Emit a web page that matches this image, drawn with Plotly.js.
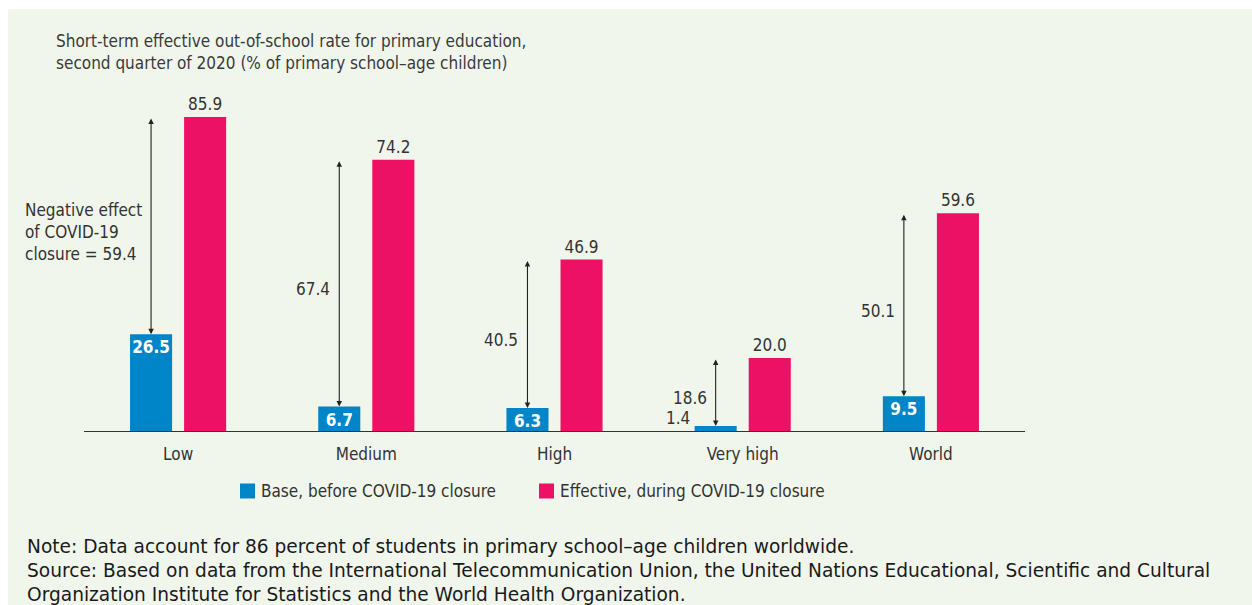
<!DOCTYPE html>
<html>
<head>
<meta charset="utf-8">
<script src="https://cdn.plot.ly/plotly-3.0.1.min.js"></script>
<style>
  html, body { margin: 0; padding: 0; background: #ffffff; }
  #bg { position: absolute; left: 8px; top: 9px; width: 1244px; height: 596px; background: #F1F6ED; }
  #chart { position: absolute; left: 0; top: 0; width: 1252px; height: 605px; }
</style>
</head>
<body>
<div id="bg"></div>
<div id="chart"></div>
<script>
// ---- Data ----
const categories = ['Low', 'Medium', 'High', 'Very high', 'World'];
const baseValues = [26.5, 6.7, 6.3, 1.4, 9.5];
const effectiveValues = [85.9, 74.2, 46.9, 20.0, 59.6];
const gapLabels = ['Negative effect<br>of COVID-19<br>closure = 59.4', '67.4', '40.5', '18.6', '50.1'];
const seriesNames = ['Base, before COVID-19 closure', 'Effective, during COVID-19 closure'];
const titleText = 'Short-term effective out-of-school rate for primary education,<br>second quarter of 2020 (% of primary school\u2013age children)';
const noteText = 'Note: Data account for 86 percent of students in primary school\u2013age children worldwide.<br>' +
  'Source: Based on data from the International Telecommunication Union, the United Nations Educational, Scientific and Cultural<br>' +
  'Organization Institute for Statistics and the World Health Organization.';

// ---- Styles ----
const NARROW = '"DejaVu Sans Condensed", "Liberation Sans Narrow", "Arial Narrow", sans-serif';
const BLUE = '#0085C9';
const PINK = '#EC1164';
const TXT = '#333333';
const seriesColors = [BLUE, PINK];
const blueOffset = -27 / 188; // centre of the blue bar relative to the category centre
const PW = 941, PH = 329, PL = 84, PB = 431; // plot area in pixels (for paper conversions)
const px2x = p => (p - PL) / PW;
const px2y = p => (PB - p) / PH;

const smallBase = baseValues.map(v => v < 3);

const traces = [
  {
    type: 'bar', name: seriesNames[0], x: categories, y: baseValues,
    marker: { color: BLUE },
    text: baseValues.map(v => v.toFixed(1)),
    textposition: smallBase.map(s => s ? 'none' : 'inside'),
    insidetextanchor: 'end',
    textangle: 0,
    constraintext: 'none',
    insidetextfont: { family: NARROW, size: 17, color: '#ffffff', weight: 'bold' },
    hoverinfo: 'x+y', showlegend: false
  },
  {
    type: 'bar', name: seriesNames[1], x: categories, y: effectiveValues,
    marker: { color: PINK },
    text: effectiveValues.map(v => v.toFixed(1)),
    textposition: 'outside',
    textangle: 0,
    constraintext: 'none',
    cliponaxis: false,
    outsidetextfont: { family: NARROW, size: 17, color: TXT },
    hoverinfo: 'x+y', showlegend: false
  }
];

const annotations = [];
const shapes = [];
categories.forEach((c, i) => {
  const xPos = i + blueOffset;
  annotations.push({
    x: xPos, y: baseValues[i], xref: 'x', yref: 'y',
    ax: xPos, ay: effectiveValues[i], axref: 'x', ayref: 'y',
    text: '', showarrow: true, arrowside: 'end+start', arrowhead: 2,
    arrowsize: 1, arrowwidth: 1.1, arrowcolor: '#222222', standoff: 0, startstandoff: 0
  });
  annotations.push({
    x: xPos, y: (baseValues[i] + effectiveValues[i]) / 2, xref: 'x', yref: 'y',
    text: gapLabels[i], showarrow: false, xanchor: 'right', yanchor: 'middle',
    xshift: -7, yshift: -6, align: 'left',
    font: { family: NARROW, size: 17, color: TXT }
  });
  if (smallBase[i]) {
    annotations.push({
      x: xPos, y: 0, xref: 'x', yref: 'y',
      text: baseValues[i].toFixed(1), showarrow: false, xanchor: 'right', yanchor: 'bottom',
      xshift: -24, yshift: 1,
      font: { family: NARROW, size: 17, color: TXT }
    });
  }
});

// legend (symbol squares + labels)
const legendSymbolLeft = [240, 539];
const legendY = 491;
seriesNames.forEach((name, k) => {
  shapes.push({
    type: 'rect', xref: 'paper', yref: 'paper',
    x0: px2x(legendSymbolLeft[k]), x1: px2x(legendSymbolLeft[k] + 15),
    y0: px2y(legendY + 7.5), y1: px2y(legendY - 7.5),
    fillcolor: seriesColors[k], line: { width: 0 }
  });
  annotations.push({
    x: px2x(legendSymbolLeft[k] + 19), y: px2y(legendY), xref: 'paper', yref: 'paper',
    xanchor: 'left', yanchor: 'middle', showarrow: false, text: name,
    font: { family: NARROW, size: 17, color: TXT }
  });
});

annotations.push({
  x: px2x(25), y: px2y(534), xref: 'paper', yref: 'paper',
  xanchor: 'left', yanchor: 'top', align: 'left', showarrow: false,
  text: noteText,
  font: { family: '"DejaVu Sans", Verdana, sans-serif', size: 18.6, color: '#1a1a1a' }
});

const layout = {
  width: 1252, height: 605,
  margin: { l: 84, r: 227, t: 102, b: 174, pad: 0 },
  paper_bgcolor: 'rgba(0,0,0,0)',
  plot_bgcolor: 'rgba(0,0,0,0)',
  font: { family: NARROW, size: 17, color: TXT },
  title: {
    text: titleText, xref: 'container', yref: 'container',
    x: 56 / 1252, xanchor: 'left', y: 1 - 47 / 605, yanchor: 'top',
    font: { family: NARROW, size: 17, color: '#3a3a3a' }
  },
  barmode: 'group',
  bargap: 0.4255,
  bargroupgap: 0.222,
  xaxis: {
    type: 'category', range: [-0.5, 4.5], showline: true, linecolor: '#333333', linewidth: 1.2,
    showgrid: false, zeroline: false, ticks: '', ticklabelstandoff: 7,
    tickfont: { family: NARROW, size: 17, color: TXT }, fixedrange: true
  },
  yaxis: { range: [0, 90], visible: false, showgrid: false, zeroline: false, fixedrange: true },
  showlegend: false,
  annotations: annotations,
  shapes: shapes
};

Plotly.newPlot('chart', traces, layout, { displayModeBar: false, staticPlot: true });
</script>
</body>
</html>
